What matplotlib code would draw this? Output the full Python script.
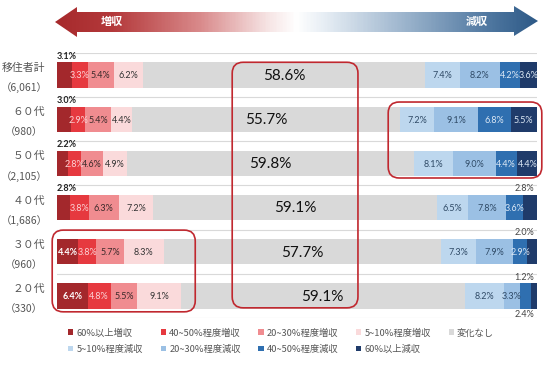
import matplotlib
matplotlib.use('Agg')
import matplotlib.pyplot as plt
import numpy as np
from matplotlib.patches import Polygon, FancyBboxPatch
from matplotlib.colors import LinearSegmentedColormap
from matplotlib.transforms import IdentityTransform, blended_transform_factory

plt.rcParams['font.family'] = ['Noto Sans CJK JP', 'DejaVu Sans']

rows = ['移住者計', '６０代', '５０代', '４０代', '３０代', '２０代']
counts = ['（6,061）', '（980）', '（2,105）', '（1,686）', '（960）', '（330）']
categories = ['60%以上増収', '40~50%程度増収', '20~30%程度増収', '5~10%程度増収', '変化なし',
              '5~10%程度減収', '20~30%程度減収', '40~50%程度減収', '60%以上減収']
inc60 = [3.1, 3.0, 2.2, 2.8, 4.4, 6.4]
inc40 = [3.3, 2.9, 2.8, 3.8, 3.8, 4.8]
inc20 = [5.4, 5.4, 4.6, 6.3, 5.7, 5.5]
inc5 = [6.2, 4.4, 4.9, 7.2, 8.3, 9.1]
nochange = [58.6, 55.7, 59.8, 59.1, 57.7, 59.1]
dec5 = [7.4, 7.2, 8.1, 6.5, 7.3, 8.2]
dec20 = [8.2, 9.1, 9.0, 7.8, 7.9, 3.3]
dec40 = [4.2, 6.8, 4.4, 3.6, 2.9, 2.4]
dec60 = [3.6, 5.5, 4.4, 2.8, 2.0, 1.2]
series = [inc60, inc40, inc20, inc5, nochange, dec5, dec20, dec40, dec60]

colors = ['#A3282C', '#E6393F', '#F08C90', '#FADADB', '#D9D9D9',
          '#BDD7EE', '#9BC0E4', '#2F6FB0', '#1F3B6A']
label_colors = ['white', '#FBD3D5', '#3A2A2A', '#333333', '#111111',
                '#2F4A66', '#2F4A66', '#DCE8F5', '#DCE8F5']
# labels drawn outside of their segment: (row, category) -> side
outside = {(0, 0): 'above', (1, 0): 'above', (2, 0): 'above', (3, 0): 'above',
           (3, 8): 'above', (4, 8): 'above', (5, 8): 'above', (5, 7): 'below'}

W, H = 550, 365
fig = plt.figure(figsize=(W / 100, H / 100), dpi=100)
L, R, T, B = 57, 537, 53, 318
ax = fig.add_axes([L / W, 1 - B / H, (R - L) / W, (B - T) / H])
ax.set_xlim(0, 100)
ax.set_ylim(len(rows) - 0.5, -0.5)
ypos = np.arange(len(rows))
bh = 0.57

for g in np.arange(-0.5, len(rows) + 0.5, 1.0):
    ax.axhline(g, color='#D9D9D9', lw=0.8, zorder=0)

left = np.zeros(len(rows))
numfont = ['Lato', 'DejaVu Sans']
handles = []
for j, (vals, col) in enumerate(zip(series, colors)):
    vals = np.array(vals)
    bars = ax.barh(ypos, vals, left=left, height=bh, color=col, edgecolor='none',
                   label=categories[j], zorder=2)
    handles.append(bars)
    for i, v in enumerate(vals):
        txt = f'{v:.1f}%'
        cx = left[i] + v / 2
        side = outside.get((i, j))
        if j == 4:
            ax.text(cx, ypos[i] + 0.02, txt, ha='center', va='center', fontsize=11,
                    color='#111111', family=numfont, zorder=4)
        elif side is None:
            ax.text(cx, ypos[i] + 0.02, txt, ha='center', va='center', fontsize=6.5,
                    color=label_colors[j], family=numfont, zorder=4,
                    fontweight='bold' if j == 0 else 'normal')
        else:
            if j < 4:
                x, ha, fw, c = left[i], 'left', 'bold', '#222222'
            else:
                x, ha, fw, c = 99.4, 'right', 'normal', '#444444'
            if side == 'above':
                y, va = ypos[i] - bh / 2 - 0.04, 'bottom'
            else:
                y, va = ypos[i] + bh / 2 + 0.04, 'top'
            ax.text(x, y, txt, ha=ha, va=va, fontsize=6.5, color=c, family=numfont,
                    fontweight=fw, zorder=4)
    left = left + vals

# row labels (two lines)
tr = blended_transform_factory(fig.transFigure, ax.transData)
for i, (r, c) in enumerate(zip(rows, counts)):
    ax.text(45 / W, ypos[i] - 0.16, r, transform=tr, ha='right', va='center',
            fontsize=7.8, color='#555555')
    ax.text(24 / W, ypos[i] + 0.29, c, transform=tr, ha='center', va='center',
            fontsize=7.5, color='#555555')
ax.set_yticks([])
ax.set_xticks([])
for s in ax.spines.values():
    s.set_visible(False)
ax.set_facecolor('none')

# highlight boxes (given in data coordinates of the main axes)
boxes = [((36.5, -0.29), (62.7, 5.27)), ((69.0, 0.61), (101.0, 2.33)),
         ((-1.0, 3.51), (28.8, 5.36))]
for (x0, y0), (x1, y1) in boxes:
    p0 = ax.transData.transform((x0, y1))
    p1 = ax.transData.transform((x1, y0))
    patch = FancyBboxPatch((p0[0], p0[1]), p1[0] - p0[0], p1[1] - p0[1],
                           boxstyle='round,pad=0,rounding_size=11',
                           transform=IdentityTransform(), fill=False,
                           edgecolor='#C0282F', lw=1.2, zorder=10)
    fig.add_artist(patch)

# header arrow
ov = fig.add_axes([0, 0, 1, 1], zorder=-1)
ov.set_xlim(0, W)
ov.set_ylim(H, 0)
ov.axis('off')
ov.patch.set_alpha(0)
cmap = LinearSegmentedColormap.from_list('hdr', [
    (0.0, '#A62A2C'), (0.12, '#B4393B'), (0.3, '#D98A8B'), (0.44, '#F6E4E4'),
    (0.5, '#FFFFFF'), (0.56, '#E6EDF4'), (0.72, '#9EB6CE'), (0.9, '#4F77A0'),
    (1.0, '#2D5986')])
grad = np.linspace(0, 1, 400).reshape(1, -1)
im = ov.imshow(grad, cmap=cmap, extent=(54, 539, 38, 5), aspect='auto')
poly = Polygon([(55, 22), (77, 7), (77, 12), (514, 12), (514, 6), (538, 21),
                (514, 36), (514, 32), (77, 32), (77, 37)], closed=True,
               facecolor='none', edgecolor='none', transform=ov.transData)
ov.add_patch(poly)
im.set_clip_path(poly)
ov.text(112, 21, '増収', ha='center', va='center', color='white', fontsize=8,
        fontweight='bold')
ov.text(477, 21, '減収', ha='center', va='center', color='white', fontsize=8,
        fontweight='bold')

order = [0, 5, 1, 6, 2, 7, 3, 8, 4]
fig.legend([handles[k] for k in order], [categories[k] for k in order],
           loc='upper left', bbox_to_anchor=(60 / W, 1 - 320 / H), ncol=5,
           frameon=False, fontsize=6.7, handlelength=0.55, handleheight=0.55,
           handletextpad=0.35, columnspacing=1.9, labelspacing=0.75,
           labelcolor='#555555')

fig.savefig('out.png', dpi=100)
